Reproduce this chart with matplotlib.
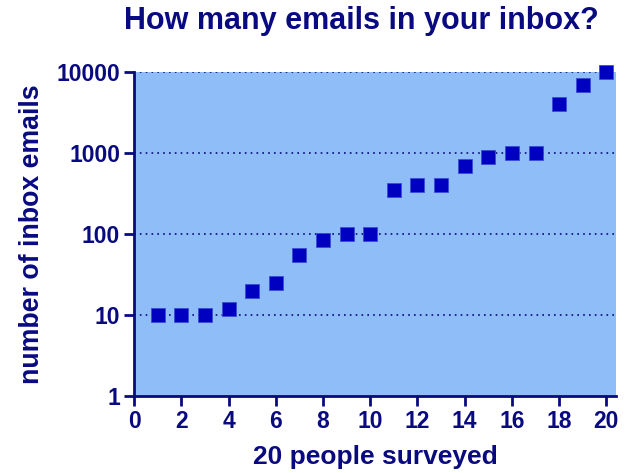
import matplotlib.pyplot as plt
from matplotlib.ticker import FixedLocator, FixedFormatter, NullLocator

# datos
persona = list(range(1, 21))
emails = [10, 10, 10, 12, 20, 25, 55, 85, 100, 100,
          350, 400, 400, 700, 900, 1000, 1000, 4000, 7000, 10000]
yticks = [1, 10, 100, 1000, 10000]
xticks = list(range(0, 21, 2))

navy = '#0A0A80'
plt.rcParams['font.family'] = ['Liberation Sans', 'DejaVu Sans']
plt.rcParams['font.weight'] = 'bold'

fig = plt.figure(figsize=(6.31, 4.73), dpi=100)
ax = fig.add_axes([0.2124, 0.1628, 0.7636, 0.685])
ax.set_facecolor('#8FBDF7')

ax.set_yscale('log')
ax.set_ylim(1, 10000)
ax.set_xlim(0, 20.4)

# lineas punteadas en cada decada
for y in yticks[1:]:
    ax.axhline(y, color=navy, linestyle=(0, (1, 2.5)), linewidth=1.2, zorder=1)

ax.plot(persona, emails, 's', color='#0000C0', markersize=10,
        markeredgecolor='#3A4CD8', markeredgewidth=0.6, zorder=3, clip_on=False)

ax.yaxis.set_major_locator(FixedLocator(yticks))
ax.yaxis.set_major_formatter(FixedFormatter([str(v) for v in yticks]))
ax.yaxis.set_minor_locator(NullLocator())
ax.set_xticks(xticks)

for s in ['top', 'right']:
    ax.spines[s].set_visible(False)
for s in ['left', 'bottom']:
    ax.spines[s].set_color(navy)
    ax.spines[s].set_linewidth(2)

ax.tick_params(colors=navy, labelsize=16.5, width=2, length=7, direction='out', pad=3)
for lab in ax.get_xticklabels() + ax.get_yticklabels():
    lab.set_fontweight('bold')

ax.set_xlabel('20 people surveyed', fontsize=19, color=navy, fontweight='bold', labelpad=9)
ax.set_ylabel('number of inbox emails', fontsize=19.3, color=navy, fontweight='bold', labelpad=8)
fig.text(0.573, 0.956, 'How many emails in your inbox?', fontsize=22, color=navy,
         fontweight='bold', ha='center', va='center')

fig.savefig('out.png', dpi=100)
